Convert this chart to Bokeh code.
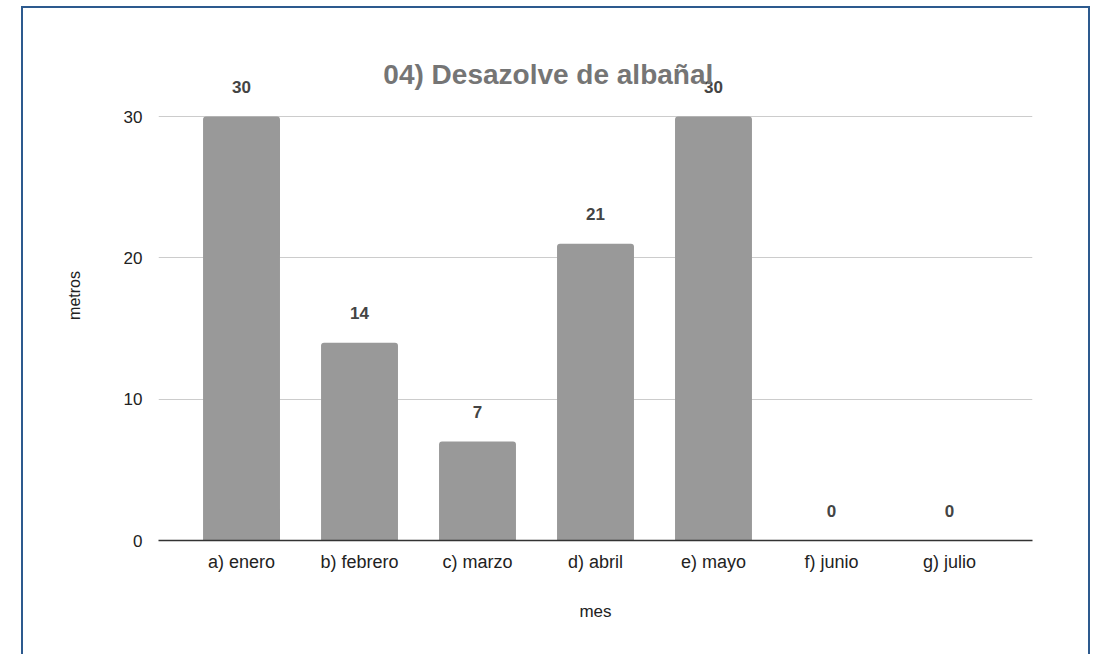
from bokeh.plotting import figure
from bokeh.models import ColumnDataSource, FactorRange, Range1d, FixedTicker, Label
from bokeh.core.properties import value
from bokeh.embed import file_html
from bokeh.resources import INLINE

months = ["a) enero", "b) febrero", "c) marzo", "d) abril", "e) mayo", "f) junio", "g) julio"]
metros = [30, 14, 7, 21, 30, 0, 0]
y_ticks = [0, 10, 20, 30]
title_text = "04) Desazolve de albañal"

src = ColumnDataSource(dict(mes=months, metros=metros, lab=[str(v) for v in metros]))

FONT = "Liberation Sans"

p = figure(
    width=1069, height=660,
    x_range=FactorRange(*months, range_padding=0.2035, range_padding_units="absolute"),
    y_range=Range1d(0, 34.67),
    output_backend="svg", toolbar_location=None,
    min_border_left=135, min_border_right=60, min_border_top=42, min_border_bottom=128,
)
p.styles = {"margin-left": "21px", "margin-top": "6px", "border": "2px solid #2d5a8e"}
p.outline_line_color = None
p.background_fill_color = "white"
p.border_fill_color = "white"

p.vbar(x="mes", top="metros", width=0.652, source=src, fill_color="#999999",
       line_color=None, border_radius=(3, 3, 0, 0))
p.text(x="mes", y="metros", text="lab", source=src, y_offset=-30,
       text_align="center", text_baseline="middle", text_font=value(FONT),
       text_font_style="bold", text_font_size="17px", text_color="#444444")

p.yaxis.ticker = FixedTicker(ticks=y_ticks)
p.yaxis.axis_line_color = None
p.yaxis.major_tick_line_color = None
p.yaxis.minor_tick_line_color = None
p.yaxis.major_label_standoff = 10
p.yaxis.major_label_text_font = FONT
p.yaxis.major_label_text_font_size = "17px"
p.yaxis.major_label_text_color = "#222222"
p.yaxis.axis_label = "metros"
p.yaxis.axis_label_text_font = FONT
p.yaxis.axis_label_text_font_size = "16px"
p.yaxis.axis_label_text_font_style = "normal"
p.yaxis.axis_label_text_color = "#222222"
p.yaxis.axis_label_standoff = 38

p.xaxis.axis_line_color = "#333333"
p.xaxis.axis_line_width = 1.5
p.xaxis.major_tick_line_color = None
p.xaxis.minor_tick_line_color = None
p.xaxis.major_label_standoff = 5
p.xaxis.major_label_text_font = FONT
p.xaxis.major_label_text_font_size = "18px"
p.xaxis.major_label_text_color = "#222222"
p.xaxis.axis_label = "mes"
p.xaxis.axis_label_text_font = FONT
p.xaxis.axis_label_text_font_size = "17px"
p.xaxis.axis_label_text_font_style = "normal"
p.xaxis.axis_label_text_color = "#222222"
p.xaxis.axis_label_standoff = 27

p.xgrid.grid_line_color = None
p.ygrid.grid_line_color = "#cccccc"
p.ygrid.ticker = FixedTicker(ticks=y_ticks[1:])

title = Label(x=3.10, y=32.97, text=title_text, text_align="center", text_baseline="middle",
              text_font=FONT, text_font_style="bold", text_font_size="28px", text_color="#757575")
p.add_layout(title)

open("out.html", "w").write(file_html(p, INLINE))
